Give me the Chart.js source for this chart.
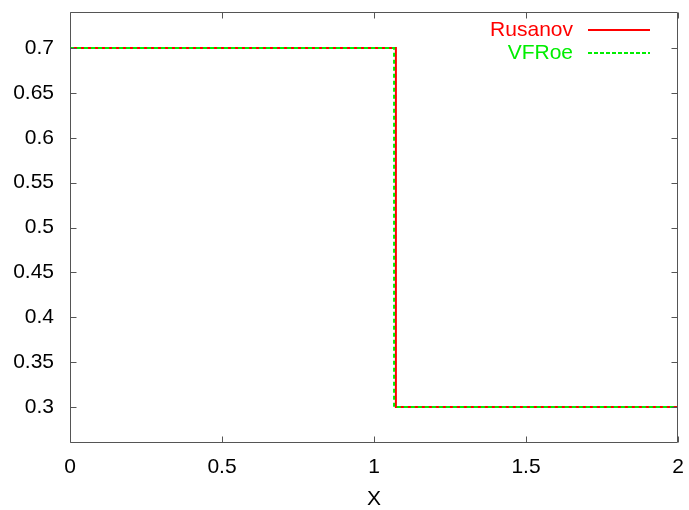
<!DOCTYPE html>
<html>
<head>
<meta charset="utf-8">
<script src="https://cdn.jsdelivr.net/npm/chart.js@4/dist/chart.umd.min.js"></script>
<style>
html,body{margin:0;padding:0;background:#fff;}
#wrap{width:689px;height:510px;position:relative;}
</style>
</head>
<body>
<div id="wrap"><canvas id="c" width="689" height="510"></canvas></div>
<script>
// ---- data ----
const seriesNames = ["Rusanov", "VFRoe"];
const rusanovX = [0, 1.072, 1.072, 2];
const rusanovY = [0.7, 0.7, 0.3, 0.3];
const vfroeX = [0, 1.066, 1.066, 2];
const vfroeY = [0.7, 0.7, 0.3, 0.3];
const xTicks = [0, 0.5, 1, 1.5, 2];
const xTickLabels = ["0", "0.5", "1", "1.5", "2"];
const yTicks = [0.3, 0.35, 0.4, 0.45, 0.5, 0.55, 0.6, 0.65, 0.7];
const yTickLabels = ["0.3", "0.35", "0.4", "0.45", "0.5", "0.55", "0.6", "0.65", "0.7"];
const xTitle = "X";

const FONT = "'Liberation Sans', Arial, Helvetica, sans-serif";

function pts(xs, ys){ return xs.map((x,i)=>({x:x,y:ys[i]})); }

const frame = {
  id: 'frame',
  afterDatasetsDraw(chart){
    const ctx = chart.ctx, a = chart.chartArea;
    const xs = chart.scales.x, ys = chart.scales.y;
    ctx.save();
    ctx.strokeStyle = '#555';
    ctx.lineWidth = 1;
    ctx.beginPath();
    const L = Math.round(a.left)+0.5, R = Math.round(a.right)-0.5, T = Math.round(a.top)+0.5, B = Math.round(a.bottom)-0.5;
    ctx.rect(L, T, R-L, B-T);
    const tl = 6;
    xTicks.forEach(v=>{
      const px = Math.round(xs.getPixelForValue(v))+0.5;
      ctx.moveTo(px, B); ctx.lineTo(px, B-tl);
      ctx.moveTo(px, T); ctx.lineTo(px, T+tl);
    });
    yTicks.forEach(v=>{
      const py = Math.round(ys.getPixelForValue(v))+0.5;
      ctx.moveTo(L, py); ctx.lineTo(L+tl, py);
      ctx.moveTo(R, py); ctx.lineTo(R-tl, py);
    });
    ctx.stroke();

    // legend
    const ds = chart.data.datasets;
    const rows = [
      {label: ds[0].label, color: ds[0].borderColor, dash: [], y: 30},
      {label: ds[1].label, color: ds[1].borderColor, dash: [4,2], y: 53}
    ];
    ctx.font = '21px ' + FONT;
    ctx.textAlign = 'right';
    ctx.textBaseline = 'middle';
    rows.forEach(r=>{
      ctx.fillStyle = r.color;
      ctx.fillText(r.label, 573, r.y);
      ctx.strokeStyle = r.color;
      ctx.lineWidth = 2;
      ctx.setLineDash(r.dash);
      ctx.beginPath();
      ctx.moveTo(588, r.y); ctx.lineTo(650, r.y);
      ctx.stroke();
      ctx.setLineDash([]);
    });
    ctx.restore();
  }
};

new Chart(document.getElementById('c'), {
  type: 'line',
  data: {
    datasets: [
      {label: seriesNames[0], data: pts(rusanovX, rusanovY), borderColor: '#ff0000', borderWidth: 2, pointRadius: 0, fill: false, tension: 0, order: 1},
      {label: seriesNames[1], data: pts(vfroeX, vfroeY), borderColor: '#00ee00', borderWidth: 2, borderDash: [4,3], pointRadius: 0, fill: false, tension: 0, order: 0}
    ]
  },
  options: {
    responsive: false,
    animation: false,
    events: [],
    layout: {padding: {left: 0, right: 11, top: 12, bottom: 0}},
    plugins: {legend: {display: false}, tooltip: {enabled: false}},
    scales: {
      x: {
        type: 'linear', min: 0, max: 2,
        afterBuildTicks(s){ s.ticks = xTicks.map(v=>({value:v})); },
        afterFit(s){ s.height = 67; s.paddingLeft = 0; s.paddingRight = 0; },
        grid: {display: false, drawTicks: false},
        border: {display: false},
        ticks: {
          color: '#000', font: {family: FONT, size: 21}, padding: 12, maxRotation: 0,
          callback: (v)=>{ const i = xTicks.indexOf(v); return i>=0 ? xTickLabels[i] : ''; }
        },
        title: {display: true, text: xTitle, color: '#000', font: {family: FONT, size: 21, lineHeight: 1}, padding: {top: 0, bottom: 0}}
      },
      y: {
        type: 'linear', min: 0.26, max: 0.74,
        afterBuildTicks(s){ s.ticks = yTicks.map(v=>({value:v})); },
        afterFit(s){ s.width = 70; s.paddingTop = 0; s.paddingBottom = 0; },
        grid: {display: false, drawTicks: false},
        border: {display: false},
        ticks: {
          color: '#000', font: {family: FONT, size: 21}, padding: 16,
          callback: (v)=>{ const i = yTicks.findIndex(t=>Math.abs(t-v)<1e-9); return i>=0 ? yTickLabels[i] : ''; }
        }
      }
    }
  },
  plugins: [frame]
});
</script>
</body>
</html>
